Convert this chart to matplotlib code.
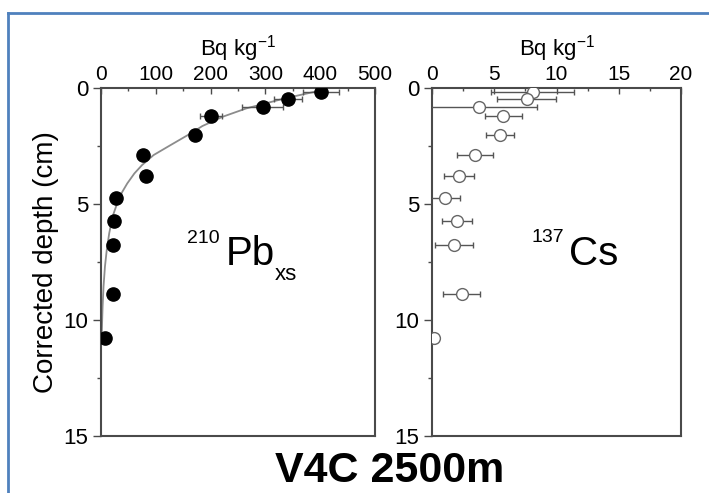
import matplotlib
matplotlib.use("Agg")
import matplotlib.pyplot as plt
from matplotlib.lines import Line2D
from matplotlib.ticker import MultipleLocator

plt.rcParams['font.family'] = ['Liberation Sans', 'DejaVu Sans']

# Corrected depth of each sample (cm)
depth = [0.16, 0.47, 0.83, 1.21, 2.03, 2.88, 3.79, 4.76, 5.73, 6.77, 8.89, 10.79]

# Excess 210Pb activity (Bq/kg) and 1-sigma uncertainty
pb_xs = [401, 341, 295, 200, 172, 76, 82, 27, 24, 22.5, 21, 7.3]
pb_err = [33, 26, 38, 20, 8, 6, 6, 4, 3, 3, 3, 2]

# Fitted 210Pb profile (depth cm, Bq/kg)
fit_depth = [0.11, 0.45, 0.88, 1.24, 1.64, 1.98, 2.46, 2.89, 3.32, 3.68,
             4.11, 4.47, 4.80, 5.55, 6.26, 6.98, 7.70, 8.56, 9.43, 10.57]
fit_pb = [400, 335, 265, 222, 185, 162, 127, 96, 75, 61,
          48, 39, 32, 21, 15, 10.5, 7.2, 4.6, 2.9, 1.4]

# 137Cs activity (Bq/kg) and 1-sigma uncertainty
cs = [8.09, 7.6, 3.8, 5.73, 5.46, 3.45, 2.2, 1.04, 2.03, 1.77, 2.38, 0.15]
cs_err = [3.35, 2.36, 4.6, 1.46, 1.1, 1.45, 1.2, 1.2, 1.2, 1.5, 1.5, 0.0]

W, H = 709, 493
fig = plt.figure(figsize=(W / 100, H / 100), dpi=100)

axis_col = '#4a4a4a'


def style_axes(ax, xmax, major, minor):
    ax.set_xlim(0, xmax)
    ax.set_ylim(15, 0)
    ax.xaxis.set_major_locator(MultipleLocator(major))
    ax.xaxis.set_minor_locator(MultipleLocator(minor))
    ax.yaxis.set_major_locator(MultipleLocator(5))
    ax.yaxis.set_minor_locator(MultipleLocator(2.5))
    ax.xaxis.tick_top()
    ax.xaxis.set_label_position('top')
    for s in ax.spines.values():
        s.set_color(axis_col)
        s.set_linewidth(1.5)
    ax.tick_params(axis='x', which='major', direction='in', length=4, width=1,
                   color=axis_col, labelsize=15, pad=3, top=True, bottom=False)
    ax.tick_params(axis='x', which='minor', direction='in', length=2, width=1,
                   color=axis_col, top=True, bottom=False)
    ax.tick_params(axis='y', which='major', direction='out', length=6, width=1,
                   color=axis_col, labelsize=16, pad=3, left=True, right=False)
    ax.tick_params(axis='y', which='minor', direction='out', length=3, width=1,
                   color=axis_col, left=True, right=False)
    ax.set_xlabel(r'Bq kg$^{\mathregular{-1}}$', fontsize=16, labelpad=7)


# --- 210Pb panel ---
ax1 = fig.add_axes([101 / W, 1 - 436 / H, 274 / W, 348 / H])
style_axes(ax1, 500, 100, 50)
ax1.plot(fit_pb, fit_depth, color='#8c8c8c', lw=1.3, zorder=2)
ax1.errorbar(pb_xs, depth, xerr=pb_err, fmt='o', color='black', ms=9.5,
             ecolor='#555555', elinewidth=1, capsize=2.5, capthick=1, zorder=3)
ax1.set_ylabel('Corrected depth (cm)', fontsize=20, labelpad=3)
ax1.text(0.314, 0.555, '210', transform=ax1.transAxes, fontsize=14, ha='left', va='baseline')
ax1.text(0.455, 0.491, 'Pb', transform=ax1.transAxes, fontsize=29, ha='left', va='baseline')
ax1.text(0.635, 0.448, 'xs', transform=ax1.transAxes, fontsize=16, ha='left', va='baseline')

# --- 137Cs panel ---
ax2 = fig.add_axes([432 / W, 1 - 436 / H, 249 / W, 348 / H])
style_axes(ax2, 20, 5, 2.5)
ax2.errorbar(cs, depth, xerr=cs_err, fmt='o', mfc='white', mec='#666666', mew=1,
             ms=8.5, ecolor='#555555', elinewidth=1, capsize=2.5, capthick=1, zorder=3)
ax2.text(0.40, 0.557, '137', transform=ax2.transAxes, fontsize=14, ha='left', va='baseline')
ax2.text(0.552, 0.491, 'Cs', transform=ax2.transAxes, fontsize=29, ha='left', va='baseline')

# Station label
fig.text(390 / W, 1 - 471 / H, 'V4C 2500m', fontsize=31, fontweight='bold',
         ha='center', va='center')

# Blue frame along the top and left edges
frame_col = '#4f81bd'
fig.add_artist(Line2D([8 / W, 8 / W], [0, 1 - 13 / H], transform=fig.transFigure,
                      color=frame_col, lw=2))
fig.add_artist(Line2D([8 / W, 1], [1 - 13 / H, 1 - 13 / H], transform=fig.transFigure,
                      color=frame_col, lw=2))

fig.savefig('out.png', dpi=100)
